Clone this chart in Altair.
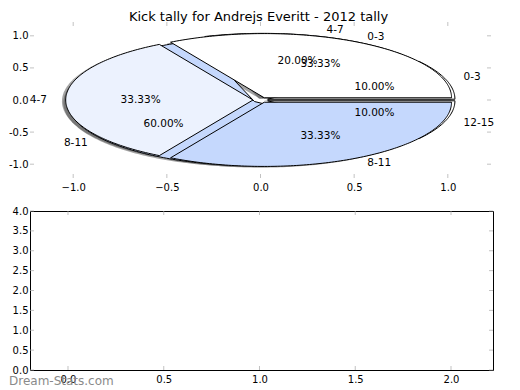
import math
import altair as alt
import pandas as pd

# ---------------- data ----------------
title_text = "Kick tally for Andrejs Everitt - 2012 tally"
cats_a = ["0-3", "4-7", "8-11"]
vals_a = [1, 1, 1]
cats_b = ["0-3", "4-7", "8-11", "12-15"]
vals_b = [1, 2, 6, 1]
pie_colors = ["#FFFFFF", "#ECF2FE", "#C5D8FD"]
explode_a = 0.04
explode_b = 0.04
top_ticks = [-1.0, -0.5, 0.0, 0.5, 1.0]
bottom_x_ticks = [0.0, 0.5, 1.0, 1.5, 2.0]
bottom_y_ticks = [0.0, 0.5, 1.0, 1.5, 2.0, 2.5, 3.0, 3.5, 4.0]
watermark = "Dream-Stats.com"

FONT = "DejaVu Sans"


def build_pie(cats, vals, explode, pie):
    total = float(sum(vals))
    polys, texts = [], []
    theta = 0.0
    for i, (c, v) in enumerate(zip(cats, vals)):
        span = 360.0 * v / total
        t1 = theta
        tm = math.radians(t1 + span / 2)
        cx, cy = explode * math.cos(tm), explode * math.sin(tm)
        n = max(2, int(math.ceil(span)))
        pts = [(cx, cy)]
        for k in range(n + 1):
            a = math.radians(t1 + span * k / n)
            pts.append((cx + math.cos(a), cy + math.sin(a)))
        pts.append((cx, cy))
        color = pie_colors[i % len(pie_colors)]
        for j, (x, y) in enumerate(pts):
            polys.append(dict(pie=pie, wedge=f"{pie}-{i}", order=j, x=x, y=y, color=color))
        lx, ly = cx + 1.1 * math.cos(tm), cy + 1.1 * math.sin(tm)
        texts.append(dict(x=lx, y=ly, text=c, align="left" if lx > 0 else "right"))
        px, py = cx + 0.6 * math.cos(tm), cy + 0.6 * math.sin(tm)
        texts.append(dict(x=px, y=py, text=f"{100.0 * v / total:.2f}%", align="center"))
        theta += span
    return polys, texts


polys_b, texts_b = build_pie(cats_b, vals_b, explode_b, "B")
polys_a, texts_a = build_pie(cats_a, vals_a, explode_a, "A")
poly_df = pd.DataFrame(polys_b + polys_a)
shadow_df = poly_df.copy()
shadow_df["x"] = shadow_df["x"] - 0.02
shadow_df["y"] = shadow_df["y"] - 0.02
text_df = pd.DataFrame(texts_b + texts_a)

# ---------------- top (pie) chart ----------------
TW, TH = 461, 156
xs_top = alt.Scale(domain=[-1.2306, 1.2306], nice=False, zero=False)
ys_top = alt.Scale(domain=[-1.215, 1.215], nice=False, zero=False)
ax_top_x = alt.Axis(values=top_ticks, format=".1f", ticks=False, tickSize=0, domain=False,
                    grid=False, labelPadding=4, title=None)
ax_top_y = alt.Axis(values=top_ticks, format=".1f", ticks=False, tickSize=0, domain=False,
                    grid=False, labelPadding=2, title=None,
                    labelExpr="replace(datum.label, '\u2212', '-')")


def tx(field):
    return alt.X(f"{field}:Q", scale=xs_top, axis=ax_top_x)


def ty(field):
    return alt.Y(f"{field}:Q", scale=ys_top, axis=ax_top_y)


layers = []
layers.append(
    alt.Chart(shadow_df).mark_line(fill="#4a4a4a", fillOpacity=0.5, strokeWidth=0)
    .encode(x=tx("x"), y=ty("y"), detail="wedge:N", order="order:Q")
)
for pie in ["B", "A"]:
    for col in pie_colors:
        sub = poly_df[(poly_df["pie"] == pie) & (poly_df["color"] == col)]
        if len(sub) == 0:
            continue
        layers.append(
            alt.Chart(sub).mark_line(fill=col, stroke="black", strokeWidth=1, strokeJoin="round")
            .encode(x=tx("x"), y=ty("y"), detail="wedge:N", order="order:Q")
        )
for al in ["left", "right", "center"]:
    sub = text_df[text_df["align"] == al]
    layers.append(
        alt.Chart(sub).mark_text(align=al, baseline="middle", fontSize=10.5, font=FONT, color="black")
        .encode(x=tx("x"), y=ty("y"), text="text:N")
    )

tick_top_df = pd.DataFrame({"v": top_ticks})
TICK_COLOR = "#a8a8a8"
layers.append(alt.Chart(tick_top_df).mark_tick(orient="horizontal", size=4, thickness=1, color=TICK_COLOR)
              .encode(y=ty("v"), x=alt.value(2)))
layers.append(alt.Chart(tick_top_df).mark_tick(orient="horizontal", size=4, thickness=1, color=TICK_COLOR)
              .encode(y=ty("v"), x=alt.value(TW - 2)))
layers.append(alt.Chart(tick_top_df).mark_tick(orient="vertical", size=4, thickness=1, color=TICK_COLOR)
              .encode(x=tx("v"), y=alt.value(2)))
layers.append(alt.Chart(tick_top_df).mark_tick(orient="vertical", size=4, thickness=1, color=TICK_COLOR)
              .encode(x=tx("v"), y=alt.value(TH - 2)))

top = alt.layer(*layers).properties(
    width=TW, height=TH,
    title=alt.TitleParams(title_text, fontSize=13, font=FONT, fontWeight="normal", offset=-2,
                          dx=-2, anchor="middle", color="black"),
    view=alt.ViewBackground(strokeWidth=0),
)

# ---------------- bottom (empty) chart ----------------
BW, BH = 463, 159
xs_bot = alt.Scale(domain=[-0.1984, 2.2193], nice=False, zero=False)
ys_bot = alt.Scale(domain=[0, 4], nice=False, zero=False)
ax_bot_x = alt.Axis(values=bottom_x_ticks, format=".1f", ticks=False, tickSize=0, domain=False,
                    grid=False, labelPadding=4, title=None)
ax_bot_y = alt.Axis(values=bottom_y_ticks, format=".1f", ticks=False, tickSize=0, domain=False,
                    grid=False, labelPadding=2, title=None)

bx_df = pd.DataFrame({"v": bottom_x_ticks})
by_df = pd.DataFrame({"v": bottom_y_ticks})


def bx(field):
    return alt.X(f"{field}:Q", scale=xs_bot, axis=ax_bot_x)


def by(field):
    return alt.Y(f"{field}:Q", scale=ys_bot, axis=ax_bot_y)


blayers = [
    alt.Chart(by_df).mark_tick(orient="horizontal", size=4, thickness=1, color=TICK_COLOR)
    .encode(y=by("v"), x=alt.value(2)),
    alt.Chart(by_df).mark_tick(orient="horizontal", size=4, thickness=1, color=TICK_COLOR)
    .encode(y=by("v"), x=alt.value(BW - 2)),
    alt.Chart(bx_df).mark_tick(orient="vertical", size=4, thickness=1, color=TICK_COLOR)
    .encode(x=bx("v"), y=alt.value(2)),
    alt.Chart(bx_df).mark_tick(orient="vertical", size=4, thickness=1, color=TICK_COLOR)
    .encode(x=bx("v"), y=alt.value(BH - 2)),
    alt.Chart(pd.DataFrame({"t": [watermark]})).mark_text(
        align="left", baseline="middle", fontSize=12, font=FONT, color="#8a8a8a")
    .encode(text="t:N", x=alt.value(-21), y=alt.value(BH + 11)),
]

bottom = alt.layer(*blayers).properties(
    width=BW, height=BH,
    view=alt.ViewBackground(stroke="black", strokeWidth=1),
)

chart = alt.vconcat(top, bottom, spacing=33, bounds="flush").properties(
    padding={"left": 0, "top": 3, "right": 0, "bottom": 0}
).configure_axis(
    labelFont=FONT, labelFontSize=10, labelColor="black"
).configure_view(fill="white")

chart.save("out.html", embed_options={"renderer": "svg", "actions": False})
